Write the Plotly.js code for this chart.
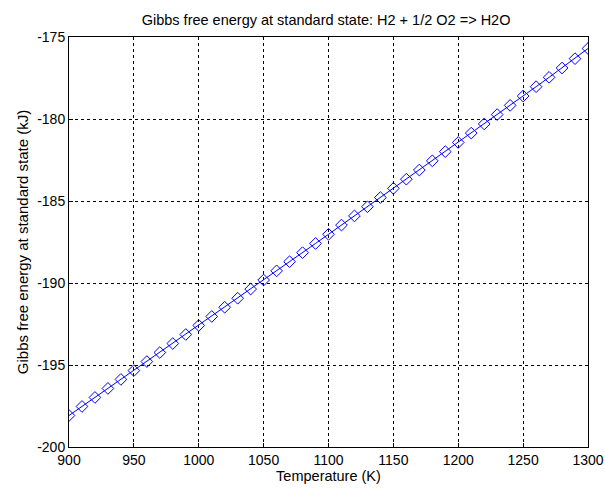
<!DOCTYPE html>
<html><head><meta charset="utf-8">
<script src="https://cdn.plot.ly/plotly-3.0.1.min.js"></script>
<style>html,body{margin:0;padding:0;background:#fff}#chart{width:605px;height:491px}</style>
</head><body><div id="chart"></div>
<script>
const temperature = [900,910,920,930,940,950,960,970,980,990,1000,1010,1020,1030,1040,1050,1060,1070,1080,1090,1100,1110,1120,1130,1140,1150,1160,1170,1180,1190,1200,1210,1220,1230,1240,1250,1260,1270,1280,1290,1300];
const gibbs = [-198.08,-197.53,-196.98,-196.43,-195.88,-195.34,-194.79,-194.24,-193.69,-193.14,-192.59,-192.04,-191.48,-190.93,-190.37,-189.82,-189.26,-188.70,-188.15,-187.59,-187.03,-186.47,-185.91,-185.35,-184.79,-184.23,-183.67,-183.11,-182.55,-181.99,-181.43,-180.86,-180.30,-179.73,-179.17,-178.60,-178.03,-177.46,-176.89,-176.32,-175.70];
const xTicks = [900,950,1000,1050,1100,1150,1200,1250,1300];
const yTicks = [-200,-195,-190,-185,-180,-175];

const fam = 'Liberation Sans, Arial, sans-serif';
Plotly.newPlot('chart', [{
  x: temperature, y: gibbs, type:'scatter', mode:'lines+markers',
  line:{color:'#0000ff', width:1},
  marker:{symbol:'diamond-open', size:9, color:'#0000ff', line:{width:1}}
}], {
  width:605, height:491,
  margin:{l:69, r:17, t:37, b:44},
  paper_bgcolor:'#fff', plot_bgcolor:'#fff',
  font:{family:fam, size:14, color:'#000'},
  showlegend:false,
  title:{text:'Gibbs free energy at standard state: H2 + 1/2 O2 => H2O', font:{family:fam,size:14.5,color:'#000'}, x:0.539, xanchor:'center', y:0.959, yanchor:'middle'},
  xaxis:{range:[900,1300], tickvals:xTicks, ticktext:xTicks.map(String), showline:true, mirror:true, linecolor:'#000', linewidth:1,
    showgrid:true, gridcolor:'#000', griddash:'3px,3px', gridwidth:1, zeroline:false, ticks:'inside', ticklen:4, tickcolor:'#000',
    tickfont:{family:fam,size:14,color:'#000'},
    title:{text:'Temperature (K)', font:{family:fam,size:14.5,color:'#000'}, standoff:0}},
  yaxis:{range:[-200,-175], tickvals:yTicks, ticktext:yTicks.map(String), showline:true, mirror:true, linecolor:'#000', linewidth:1,
    showgrid:true, gridcolor:'#000', griddash:'3px,3px', gridwidth:1, zeroline:false, ticks:'inside', ticklen:4, tickcolor:'#000',
    tickfont:{family:fam,size:14,color:'#000'},
    title:{text:'Gibbs free energy at standard state (kJ)', font:{family:fam,size:15,color:'#000'}, standoff:4}}
}, {staticPlot:true, displayModeBar:false});
</script></body></html>
